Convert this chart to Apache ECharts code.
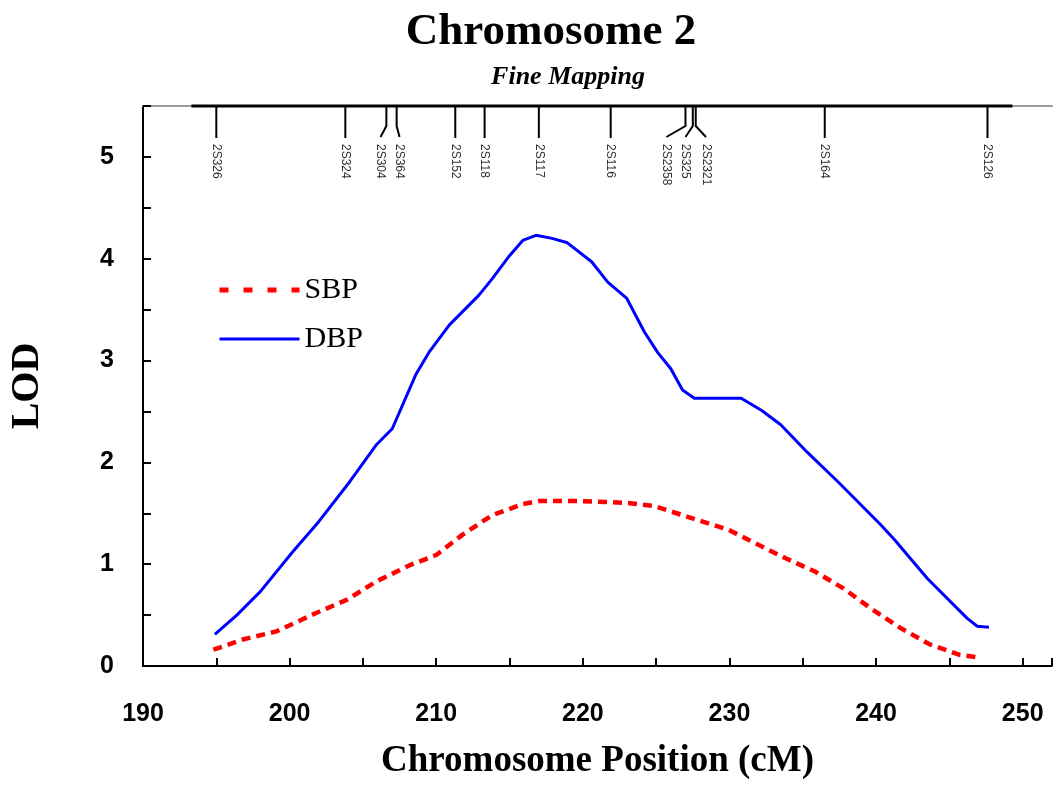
<!DOCTYPE html>
<html>
<head>
<meta charset="utf-8">
<script src="https://cdn.jsdelivr.net/npm/echarts@6/dist/echarts.min.js"></script>
<style>
html,body{margin:0;padding:0;background:#fff;}
#chart{width:1055px;height:798px;}
</style>
</head>
<body>
<div id="chart"></div>
<script>
// ---- data ----
const dbpPos = [194.9,196.4,198.0,200.2,202.0,204.1,205.9,207.0,208.6,209.5,210.9,212.9,213.8,215.0,215.9,216.8,217.9,218.9,220.6,221.7,223.0,224.2,225.1,226.0,226.8,227.6,230.8,232.2,233.5,235.3,237.4,240.3,241.2,243.5,246.2,246.9,247.7];
const dbpLOD = [0.31,0.50,0.73,1.12,1.42,1.81,2.17,2.33,2.86,3.08,3.35,3.64,3.80,4.03,4.18,4.23,4.20,4.16,3.97,3.77,3.61,3.28,3.08,2.92,2.71,2.63,2.63,2.51,2.37,2.10,1.81,1.39,1.25,0.86,0.47,0.39,0.38];
const sbpPos = [194.8,196.8,199.1,201.8,203.9,205.9,208.2,210.0,211.8,213.8,215.9,217.0,219.5,221.7,223.1,224.9,227.9,229.9,231.7,233.8,235.8,237.8,239.6,241.7,243.7,245.7,247.0];
const sbpLOD = [0.16,0.26,0.34,0.52,0.65,0.83,0.99,1.09,1.29,1.48,1.59,1.62,1.62,1.61,1.60,1.57,1.43,1.34,1.21,1.06,0.93,0.76,0.57,0.37,0.21,0.11,0.085];
const markerNames = ['2S326','2S324','2S304','2S364','2S152','2S118','2S117','2S116','2S2358','2S325','2S2321','2S164','2S126'];
const markerPos = [195.0,203.8,206.6,207.3,211.3,213.3,217.0,221.9,227.0,227.5,227.7,236.5,247.6];
const markerLabelPos = [195.0,203.8,206.2,207.5,211.3,213.3,217.0,221.9,225.7,227.0,228.4,236.5,247.6];
const mapRange = [193.3,249.3];
const xTickLabels = [190,200,210,220,230,240,250];
const yTickLabels = [0,1,2,3,4,5];

const X_MIN = 190, X_MAX = 252, Y_MAX = 5.5;

const chart = echarts.init(document.getElementById('chart'), null, {renderer:'canvas'});

const serif = 'Liberation Serif';
const sans = 'Liberation Sans';

const option = {
  backgroundColor: '#ffffff',
  animation: false,
  title: [
    {text: 'Chromosome 2', left: 546, top: 5, textAlign: 'center',
     textStyle: {fontFamily: serif, fontWeight: 'bold', fontSize: 45, color: '#000'}},
    {text: 'Fine Mapping', left: 563, top: 59, textAlign: 'center',
     textStyle: {fontFamily: serif, fontWeight: 'bold', fontStyle: 'italic', fontSize: 26, color: '#000'}}
  ],
  legend: {
    left: 212, top: 270, orient: 'vertical',
    itemWidth: 80, itemHeight: 14, itemGap: 19,
    itemStyle: {opacity: 0},
    textStyle: {fontFamily: serif, fontSize: 30, color: '#000', lineHeight: 30},
    data: [
      {name: 'SBP', itemStyle: {opacity: 0}, lineStyle: {color: '#ff0000', width: 5, type: [9, 15]}},
      {name: 'DBP', itemStyle: {opacity: 0}, lineStyle: {color: '#0000ff', width: 3, type: 'solid'}}
    ]
  },
  grid: {left: 143, right: 0, top: 106, bottom: 132, containLabel: false},
  xAxis: [
    {
      type: 'value', min: X_MIN, max: X_MAX, interval: 5,
      name: 'Chromosome Position (cM)', nameLocation: 'middle', nameGap: 77,
      nameTextStyle: {fontFamily: serif, fontWeight: 'bold', fontSize: 37, color: '#000'},
      axisLine: {show: true, onZero: false, lineStyle: {color: '#000', width: 2}},
      axisTick: {show: true, inside: true, length: 8, lineStyle: {color: '#000', width: 2}},
      axisLabel: {
        margin: 36, fontFamily: sans, fontWeight: 'bold', fontSize: 25, color: '#000',
        showMaxLabel: true,
        formatter: v => xTickLabels.indexOf(v) >= 0 ? String(v) : ''
      },
      splitLine: {show: false}
    },
    {
      type: 'value', position: 'top', min: X_MIN, max: X_MAX,
      axisLine: {show: true, onZero: false, lineStyle: {color: '#9a9a9a', width: 2}},
      axisTick: {show: false}, axisLabel: {show: false}, splitLine: {show: false}
    }
  ],
  yAxis: {
    type: 'value', min: 0, max: Y_MAX, interval: 0.5,
    name: 'LOD', nameLocation: 'middle', nameGap: 95,
    nameTextStyle: {fontFamily: serif, fontWeight: 'bold', fontSize: 40, color: '#000'},
    axisLine: {show: true, lineStyle: {color: '#000', width: 2}},
    axisTick: {show: true, inside: true, length: 8, lineStyle: {color: '#000', width: 2}},
    axisLabel: {
      margin: 29, fontFamily: sans, fontWeight: 'bold', fontSize: 25, color: '#000',
      formatter: v => yTickLabels.indexOf(v) >= 0 ? String(v) : ''
    },
    splitLine: {show: false}
  },
  series: [
    {
      name: 'SBP', type: 'line', xAxisIndex: 0, showSymbol: false, symbol: 'none',
      data: sbpPos.map((x, i) => [x, sbpLOD[i]]),
      lineStyle: {color: '#ff0000', width: 4.5, type: [9, 6]},
      itemStyle: {color: '#ff0000'}, z: 3
    },
    {
      name: 'DBP', type: 'line', xAxisIndex: 0, showSymbol: false, symbol: 'none',
      data: dbpPos.map((x, i) => [x, dbpLOD[i]]),
      lineStyle: {color: '#0000ff', width: 3},
      itemStyle: {color: '#0000ff'}, z: 3
    },
    {
      name: 'map', type: 'custom', xAxisIndex: 0, clip: false, silent: true,
      data: [[mapRange[0], mapRange[1], Y_MAX]],
      encode: {x: [0, 1], y: 2},
      renderItem: (params, api) => {
        const a = api.coord([api.value(0), Y_MAX]);
        const b = api.coord([api.value(1), Y_MAX]);
        return {type: 'line', shape: {x1: a[0], y1: a[1], x2: b[0], y2: b[1]},
                style: {stroke: '#000', lineWidth: 3}};
      },
      z: 4
    },
    {
      name: 'markers', type: 'custom', xAxisIndex: 0, clip: false, silent: true,
      data: markerPos.map((p, i) => [p, markerLabelPos[i], Y_MAX]),
      encode: {x: [0, 1], y: 2},
      renderItem: (params, api) => {
        const i = params.dataIndex;
        const top = api.coord([api.value(0), Y_MAX]);
        const x = top[0], y0 = top[1];
        const lx = api.coord([api.value(1), Y_MAX])[0];
        let pts;
        if (Math.abs(lx - x) < 1) {
          pts = [[x, y0], [x, y0 + 32]];
        } else {
          pts = [[x, y0], [x, y0 + 20], [lx, y0 + 31]];
        }
        return {
          type: 'group',
          children: [
            {type: 'polyline', shape: {points: pts}, style: {stroke: '#000', lineWidth: 2, fill: null}},
            {type: 'text', x: lx, y: y0 + 38, rotation: -Math.PI / 2,
             style: {text: markerNames[i], font: '12px "Liberation Sans"', fill: '#333',
                     align: 'left', verticalAlign: 'middle'}}
          ]
        };
      },
      z: 4
    }
  ]
};
chart.setOption(option);
</script>
</body>
</html>
